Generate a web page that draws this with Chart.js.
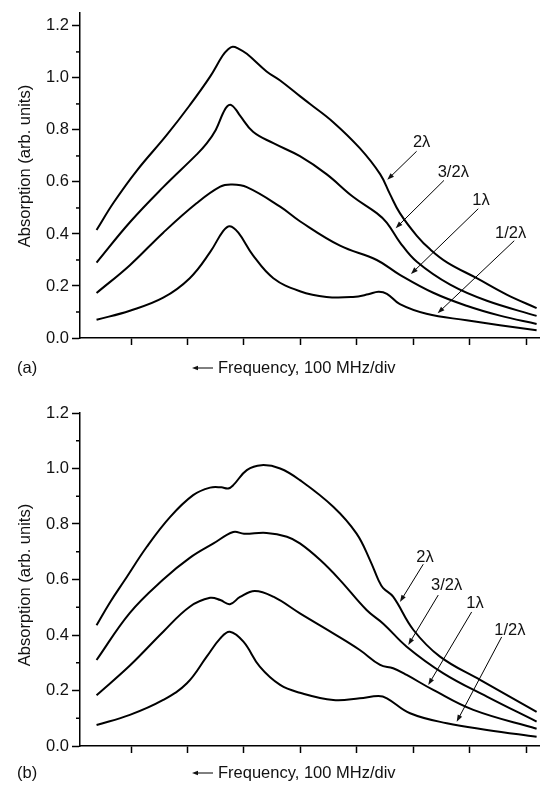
<!DOCTYPE html>
<html><head><meta charset="utf-8">
<script src="https://cdn.jsdelivr.net/npm/chart.js@4.4.0/dist/chart.umd.min.js"></script>
<style>
html,body{margin:0;padding:0;background:#fff;}
#wrap{position:relative;width:540px;height:787px;overflow:hidden;}
canvas{position:absolute;left:0;}
#ca{top:0;}
#cb{top:390px;}
</style></head><body>
<div id="wrap"><canvas id="ca" width="540" height="390"></canvas><canvas id="cb" width="540" height="397"></canvas></div>
<script>
// ---- tick labels / categories ----
const xTicks = [1, 2, 3, 4, 5, 6, 7, 8];
const yTicks = [0, 0.2, 0.4, 0.6, 0.8, 1.0, 1.2];
const yMinorTicks = [0.1, 0.3, 0.5, 0.7, 0.9, 1.1];
const seriesNames = ['2λ', '3/2λ', '1λ', '1/2λ'];
const xTitle = 'Frequency, 100 MHz/div';
const yTitle = 'Absorption (arb. units)';

// ---- panel (a) ----
const a2x = [0.39,0.69,1.10,1.63,2.04,2.40,2.62,2.72,2.80,2.90,3.05,3.40,3.64,3.99,4.17,4.58,5.05,5.41,5.58,5.76,6.06,6.30,6.60,7.12,7.65,8.18];
const a2y = [0.415,0.52,0.643,0.78,0.895,1.005,1.085,1.11,1.12,1.113,1.093,1.025,0.99,0.93,0.90,0.83,0.73,0.63,0.555,0.48,0.393,0.34,0.29,0.23,0.167,0.115];
const a3x = [0.39,0.98,1.57,2.16,2.34,2.50,2.63,2.70,2.77,2.85,2.93,3.16,3.52,3.99,4.46,4.93,5.35,5.53,5.76,6.06,6.65,7.30,8.18];
const a3y = [0.29,0.445,0.58,0.705,0.748,0.80,0.865,0.89,0.896,0.88,0.855,0.793,0.749,0.699,0.63,0.543,0.48,0.443,0.368,0.293,0.205,0.143,0.085];
const a1x = [0.39,0.98,1.57,2.16,2.58,2.78,3.05,3.64,3.99,4.70,5.35,5.76,6.35,6.94,7.53,8.18];
const a1y = [0.173,0.28,0.405,0.518,0.582,0.59,0.58,0.505,0.449,0.355,0.30,0.243,0.174,0.124,0.086,0.054];
const a0x = [0.39,0.98,1.57,2.04,2.40,2.63,2.75,2.90,3.16,3.52,3.99,4.46,4.93,5.20,5.38,5.53,5.76,6.23,6.94,7.53,8.18];
const a0y = [0.07,0.105,0.155,0.23,0.33,0.411,0.43,0.405,0.318,0.23,0.18,0.158,0.158,0.168,0.178,0.17,0.13,0.093,0.068,0.049,0.03];

// ---- panel (b) ----
const b2x = [0.39,0.63,0.89,1.28,1.69,2.10,2.40,2.60,2.72,2.81,3.05,3.31,3.64,3.99,4.58,4.99,5.23,5.38,5.46,5.64,6.00,6.47,7.18,8.18];
const b2y = [0.435,0.518,0.598,0.718,0.825,0.904,0.931,0.932,0.928,0.94,0.994,1.012,1.0,0.958,0.862,0.766,0.67,0.598,0.57,0.538,0.418,0.322,0.238,0.123];
const b3x = [0.39,0.98,1.57,2.04,2.46,2.81,3.00,3.40,3.76,3.99,4.35,4.70,5.17,5.47,5.88,6.53,7.30,8.18];
const b3y = [0.31,0.48,0.60,0.678,0.73,0.771,0.765,0.768,0.754,0.73,0.67,0.598,0.49,0.44,0.358,0.262,0.178,0.088];
const b1x = [0.39,0.98,1.57,2.04,2.40,2.58,2.75,2.93,3.19,3.52,3.99,4.58,5.05,5.41,5.64,5.88,6.35,7.06,8.18];
const b1y = [0.183,0.29,0.412,0.502,0.534,0.526,0.511,0.537,0.559,0.538,0.478,0.406,0.346,0.292,0.28,0.256,0.202,0.13,0.062];
const b0x = [0.39,0.98,1.57,1.99,2.34,2.58,2.75,2.99,3.28,3.64,3.99,4.58,5.05,5.38,5.53,5.94,6.59,7.30,8.18];
const b0y = [0.0755,0.112,0.166,0.226,0.322,0.388,0.412,0.376,0.286,0.22,0.192,0.166,0.172,0.18,0.172,0.118,0.082,0.058,0.033];

// ---- layout (annotation placement in data coordinates) ----
const layoutA = {
  tag: '(a)', yMax: 1.25, canvasH: 390, padTop: 5, plotBottom: 338, textY: 368, yTitleY: 166,
  notes: [
    {t: 6.145, v: 0.750, x1: 6.056, y1: 0.718, x2: 5.536, y2: 0.608},
    {t: 6.705, v: 0.637, x1: 6.540, y1: 0.606, x2: 5.685, y2: 0.422},
    {t: 7.195, v: 0.528, x1: 7.147, y1: 0.497, x2: 5.956, y2: 0.246},
    {t: 7.720, v: 0.403, x1: 7.784, y1: 0.374, x2: 6.428, y2: 0.095}
  ]
};
const layoutB = {
  tag: '(b)', yMax: 1.2, canvasH: 397, padTop: 23, plotBottom: 356, textY: 383, yTitleY: 195,
  notes: [
    {t: 6.204, v: 0.681, x1: 6.173, y1: 0.655, x2: 5.761, y2: 0.519},
    {t: 6.588, v: 0.580, x1: 6.439, y1: 0.544, x2: 5.908, y2: 0.364},
    {t: 7.088, v: 0.514, x1: 7.030, y1: 0.483, x2: 6.262, y2: 0.220},
    {t: 7.708, v: 0.418, x1: 7.561, y1: 0.393, x2: 6.765, y2: 0.087}
  ]
};

const FONT = '"Liberation Sans", Arial, Helvetica, sans-serif';
const INK = '#111';

function pts(xs, ys) { return xs.map((x, i) => ({x: x, y: ys[i]})); }

function arrow(ctx, x1, y1, x2, y2, len, half) {
  const ang = Math.atan2(y2 - y1, x2 - x1);
  ctx.beginPath(); ctx.moveTo(x1, y1);
  ctx.lineTo(x2 - Math.cos(ang) * len * 0.7, y2 - Math.sin(ang) * len * 0.7); ctx.stroke();
  ctx.beginPath();
  ctx.moveTo(x2, y2);
  ctx.lineTo(x2 - Math.cos(ang) * len + Math.sin(ang) * half, y2 - Math.sin(ang) * len - Math.cos(ang) * half);
  ctx.lineTo(x2 - Math.cos(ang) * len - Math.sin(ang) * half, y2 - Math.sin(ang) * len + Math.cos(ang) * half);
  ctx.closePath(); ctx.fill();
}

const decor = {
  id: 'decor',
  afterDraw(chart, args, opts) {
    const ctx = chart.ctx, xs = chart.scales.x, ys = chart.scales.y;
    const L = opts.layout;
    ctx.save();
    ctx.strokeStyle = '#000'; ctx.fillStyle = INK; ctx.lineWidth = 1.5;
    yMinorTicks.forEach(v => {
      const py = ys.getPixelForValue(v);
      ctx.beginPath(); ctx.moveTo(ys.right - 4, py); ctx.lineTo(ys.right, py); ctx.stroke();
    });
    ctx.font = '16.5px ' + FONT;
    ctx.save();
    ctx.translate(25, L.yTitleY); ctx.rotate(-Math.PI / 2);
    ctx.textAlign = 'center'; ctx.textBaseline = 'middle';
    ctx.fillText(yTitle, 0, 0);
    ctx.restore();
    ctx.textAlign = 'left'; ctx.textBaseline = 'middle';
    ctx.fillText(L.tag, 17, L.textY);
    ctx.fillText(xTitle, 218, L.textY);
    ctx.lineWidth = 1;
    arrow(ctx, 213, L.textY, 192, L.textY, 6, 2.2);
    ctx.textAlign = 'center';
    L.notes.forEach((n, i) => {
      ctx.fillText(seriesNames[i], xs.getPixelForValue(n.t), ys.getPixelForValue(n.v));
      arrow(ctx, xs.getPixelForValue(n.x1), ys.getPixelForValue(n.y1),
                 xs.getPixelForValue(n.x2), ys.getPixelForValue(n.y2), 7, 2.5);
    });
    ctx.restore();
  }
};

function makeChart(id, L, series) {
  const ds = series.map((s, i) => ({
    label: seriesNames[i], data: pts(s[0], s[1]),
    borderColor: '#000', borderWidth: 2, pointRadius: 0,
    tension: 0.4, fill: false
  }));
  return new Chart(document.getElementById(id), {
    type: 'line',
    data: {datasets: ds},
    plugins: [decor],
    options: {
      responsive: false, animation: false, devicePixelRatio: 1,
      layout: {padding: {top: L.padTop, left: 0, right: 0, bottom: 0}},
      plugins: {legend: {display: false}, tooltip: {enabled: false}, decor: {layout: L}},
      scales: {
        x: {
          type: 'linear', min: 0.097, max: 8.24,
          afterBuildTicks: s => { s.ticks = xTicks.map(v => ({value: v})); },
          afterFit: s => { s.height = L.canvasH - L.plotBottom; },
          ticks: {display: false},
          grid: {drawOnChartArea: false, drawTicks: true, tickLength: 7, tickWidth: 1.5, tickColor: '#000'},
          border: {display: true, color: '#000', width: 1.5}
        },
        y: {
          type: 'linear', min: 0, max: L.yMax,
          afterBuildTicks: s => { s.ticks = yTicks.map(v => ({value: v})); },
          afterFit: s => { s.width = 80; },
          ticks: {color: INK, font: {size: 16.5, family: FONT}, padding: 3,
                  callback: v => Number(v).toFixed(1)},
          grid: {drawOnChartArea: false, drawTicks: true, tickLength: 8, tickWidth: 1.5, tickColor: '#000'},
          border: {display: true, color: '#000', width: 1.5}
        }
      }
    }
  });
}

makeChart('ca', layoutA, [[a2x, a2y], [a3x, a3y], [a1x, a1y], [a0x, a0y]]);
makeChart('cb', layoutB, [[b2x, b2y], [b3x, b3y], [b1x, b1y], [b0x, b0y]]);
</script>
</body></html>
